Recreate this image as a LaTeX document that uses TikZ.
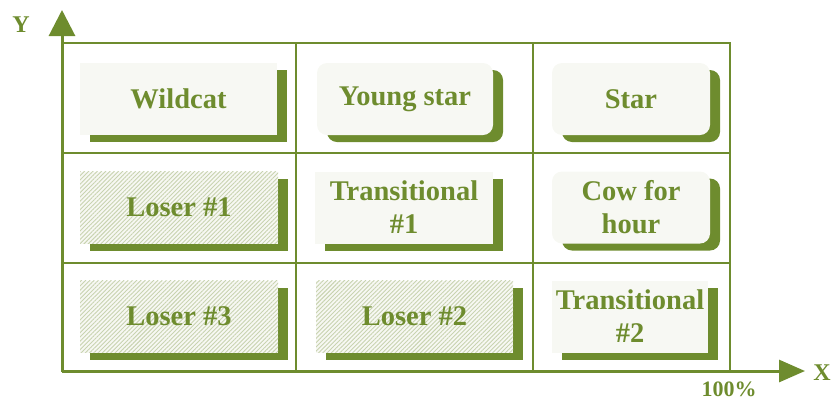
\documentclass[tikz,border=0pt]{standalone}
\usepackage{fontspec}
\setmainfont{Liberation Serif}
\usetikzlibrary{arrows.meta,shadows,patterns.meta}
\definecolor{leaf}{RGB}{110,140,46}
\definecolor{paper}{RGB}{247,248,243}

\begin{document}
\begin{tikzpicture}[x=1pt,y=-1pt,
  card/.style={drop shadow={shadow xshift=10pt,shadow yshift=-7pt,fill=leaf,opacity=1},
    fill=paper,text=leaf,font=\fontsize{28.5}{33}\selectfont\bfseries,
    align=center,inner sep=0pt,minimum height=72pt},
  roundcard/.style={card,rounded corners=10pt},
  losercard/.style={drop shadow={shadow xshift=10pt,shadow yshift=-7pt,fill=leaf,opacity=1},
    preaction={fill=paper},pattern={Lines[angle=45,distance=3pt,line width=0.9pt]},
    pattern color=leaf!38,text=leaf,font=\fontsize{28.5}{33}\selectfont\bfseries,
    align=center,inner sep=0pt,minimum height=72pt},
  axislabel/.style={text=leaf,font=\fontsize{24}{26}\selectfont\bfseries,inner sep=0pt}]
\useasboundingbox (0,0) rectangle (832,400);
% Grid
\draw[leaf,line width=2.4pt] (62,43) rectangle (730,371);
\draw[leaf,line width=2.4pt] (62,153) -- (730,153) (62,263) -- (730,263);
\draw[leaf,line width=2.4pt] (296,43) -- (296,371) (533,43) -- (533,371);
% Axes
\coordinate (o) at (62,371);
\coordinate (ytip) at (62,10);
\coordinate (xtip) at (805,371);
\draw[leaf,line width=3pt,-{Triangle[length=26pt,width=26pt]}] (o) -- (ytip);
\draw[leaf,line width=3pt,-{Triangle[length=26pt,width=22pt]}] (o) -- (xtip);
\node[axislabel] (ylab) at (21,25) {Y};
\node[axislabel] (xlab) at (822,373) {X};
\node[axislabel,font=\fontsize{22}{24}\selectfont\bfseries] (pct) at (729,389) {100\%};
% Boxes
\node[card,minimum width=197pt] (wild) at (178.5,98.5) {Wildcat};
\node[roundcard,minimum width=176pt] (young) at (405,99) {Young star};
\node[roundcard,minimum width=158pt] (star) at (631,99) {Star};
\node[losercard,minimum width=198pt] (lose1) at (179,207.5) {Loser \#1};
\node[card,minimum width=178pt] (trans1) at (404,207.5) {Transitional\\\#1};
\node[roundcard,minimum width=158pt] (cow) at (631,207.5) {Cow for\\hour};
\node[losercard,minimum width=198pt] (lose3) at (179,316.5) {Loser \#3};
\node[losercard,minimum width=197pt] (lose2) at (414.5,316.5) {Loser \#2};
\node[card,minimum width=156pt] (trans2) at (630,316.5) {Transitional\\\#2};
\end{tikzpicture}
\end{document}
